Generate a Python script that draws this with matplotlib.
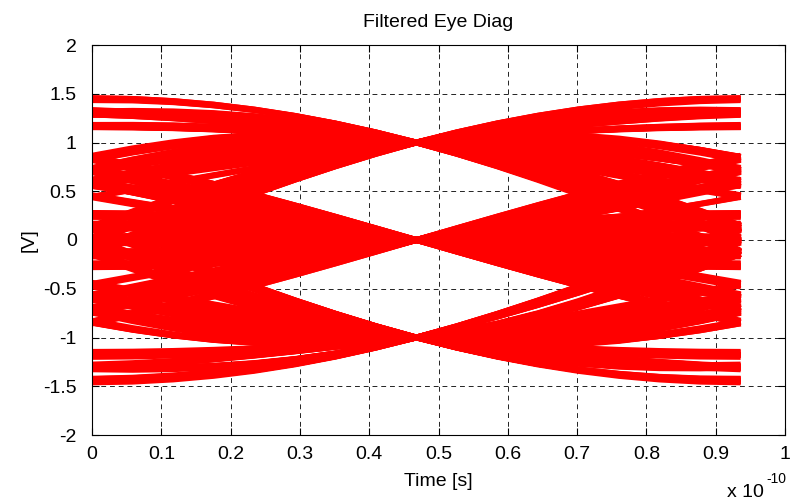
import numpy as np
import matplotlib
matplotlib.use("Agg")
import matplotlib.pyplot as plt

plt.rcParams['font.family'] = ['Liberation Sans', 'DejaVu Sans']
plt.rcParams['font.size'] = 14
plt.rcParams['axes.unicode_minus'] = False

# bit stream (0/1) sent through the modified duobinary (1 - D^2) coder
bits = ("1011001110001011110100100011101101010011111000010110011010"
        "0011100101110110001001111010011011001010001110010111110010"
        "0001101011001001110110100011110010101110000110100101101111"
        "0100011000111010110010011110001010011011101000101100111000"
        "1101101001010111100010110001110100110110010011111010000101"
        "1100101101000111011000110101110010011100101011010001111011")
symbol_period = 0.936e-10   # s
samples_per_symbol = 16
rolloff = 0.5
pulse_span = 8              # symbols each side

x_ticks = [0, 0.1, 0.2, 0.3, 0.4, 0.5, 0.6, 0.7, 0.8, 0.9, 1]
x_tick_labels = ['0', '0.1', '0.2', '0.3', '0.4', '0.5', '0.6', '0.7', '0.8', '0.9', '1']
y_ticks = [-2, -1.5, -1, -0.5, 0, 0.5, 1, 1.5, 2]
y_tick_labels = ['-2', '-1.5', '-1', '-0.5', '0', '0.5', '1', '1.5', '2']


def raised_cosine(t, beta):
    t = np.asarray(t, float)
    den = 1 - (2 * beta * t) ** 2
    with np.errstate(divide='ignore', invalid='ignore'):
        h = np.sinc(t) * np.cos(np.pi * beta * t) / den
    h[np.isclose(den, 0)] = np.pi / 4 * np.sinc(1 / (2 * beta))
    return h


# bipolar bits -> three level symbols
b = np.array([1.0 if c == '1' else -1.0 for c in bits])
levels = (b - np.roll(b, 2)) / 2
n = len(levels)

# periodic extension so every symbol sees its full neighbourhood
sps = samples_per_symbol
sym = np.concatenate([levels, levels, levels])
imp = np.zeros(len(sym) * sps)
imp[::sps] = sym
tp = np.arange(-pulse_span * sps, pulse_span * sps + 1) / sps
v = np.convolve(imp, raised_cosine(tp, rolloff), mode='same')

t = np.linspace(0, symbol_period, sps + 1)

fig = plt.figure(figsize=(7.99, 5.0), dpi=100)
ax = fig.add_axes([0.1152, 0.13, 0.8673, 0.78])

for k in range(n, 2 * n):
    s = k * sps - sps // 2
    ax.plot(t, v[s:s + sps + 1], color='red', lw=4.2, solid_capstyle='butt')

ax.set_xlim(0, 1e-10)
ax.set_ylim(-2, 2)
ax.set_xticks(np.array(x_ticks) * 1e-10)
ax.set_xticklabels(x_tick_labels)
ax.set_yticks(y_ticks)
ax.set_yticklabels(y_tick_labels)
ax.tick_params(direction='in', top=True, right=True, length=5, width=0.8,
               colors='black', labelsize=14)
ax.tick_params(axis='x', pad=8)
ax.tick_params(axis='y', pad=11)
ax.grid(True, color='#222222', linestyle=(0, (5, 4)), linewidth=0.7)
ax.set_axisbelow(True)
for sp in ax.spines.values():
    sp.set_linewidth(0.8)

ax.set_title('Filtered Eye Diag', fontsize=14, pad=13)
ax.set_xlabel('Time [s]', fontsize=14, labelpad=7)
ax.set_ylabel('[V]', fontsize=14, labelpad=4)

# exponent of the time axis, drawn like a MATLAB axis multiplier
fig.text(0.910, 0.006, 'x 10', ha='left', va='baseline', fontsize=14)
fig.text(0.959, 0.034, '-10', ha='left', va='baseline', fontsize=10)

fig.savefig('out.png', dpi=100)
